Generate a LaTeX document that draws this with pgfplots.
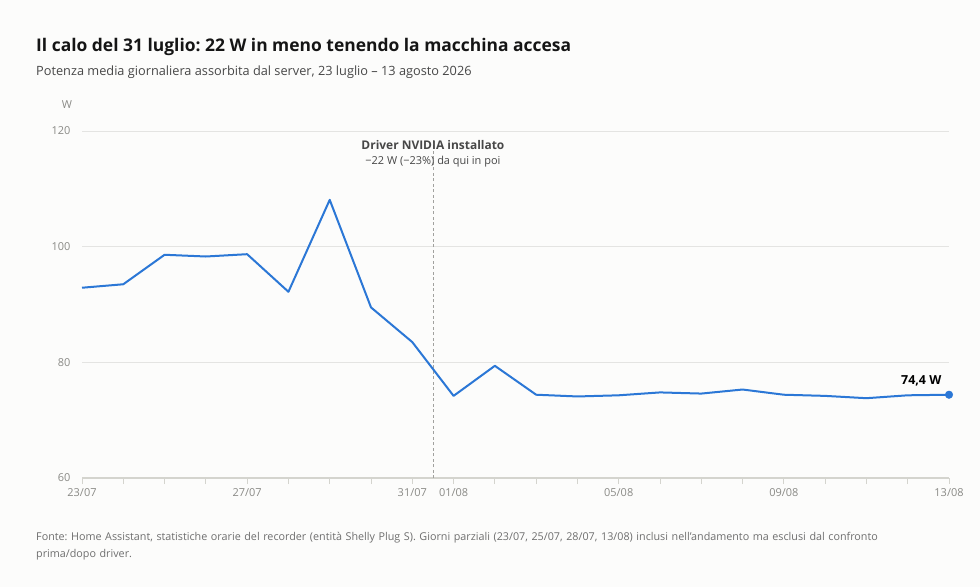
\documentclass[border=0pt]{standalone}
\usepackage{fontspec}
\setmainfont{Open Sans}
\usepackage{pgfplots}
\pgfplotsset{compat=1.18}
\frenchspacing
\definecolor{bg}{HTML}{FCFCFB}
\definecolor{linec}{HTML}{2B77D6}
\definecolor{gridc}{HTML}{E4E4E2}
\definecolor{axisc}{HTML}{D4D4CE}
\definecolor{tickc}{HTML}{8A8A86}
\definecolor{titlec}{HTML}{151515}
\definecolor{subc}{HTML}{474747}
\definecolor{notec}{HTML}{6E6E6E}

\pgfplotstableread{
day W
0 92.9
1 93.5
2 98.6
3 98.3
4 98.7
5 92.2
6 108.1
7 89.5
8 83.5
9 74.2
10 79.4
11 74.4
12 74.1
13 74.3
14 74.8
15 74.6
16 75.3
17 74.4
18 74.2
19 73.8
20 74.3
21 74.4
}\power

\begin{document}
\begin{tikzpicture}[x=1bp,y=1bp]
\fill[bg] (0,0) rectangle (980,-587);
\node[anchor=west,inner sep=0pt,text=titlec,font=\fontsize{17.5}{21}\selectfont\bfseries] at (36,-47) {Il calo del 31 luglio: 22 W in meno tenendo la macchina accesa};
\node[anchor=west,inner sep=0pt,text=subc,font=\fontsize{12.8}{15}\selectfont] at (36,-72) {Potenza media giornaliera assorbita dal server, 23 luglio – 13 agosto 2026};
\node[text=tickc,font=\fontsize{11}{13}\selectfont] at (67,-105) {W};

\begin{axis}[
  at={(82bp,-478bp)}, anchor=south west,
  scale only axis, width=867bp, height=347bp,
  xmin=0, xmax=21, ymin=60, ymax=120,
  axis x line*=bottom, axis y line*=left,
  x axis line style={draw=axisc, line width=1.6bp},
  y axis line style={draw=none},
  xtick={0,...,21},
  xticklabels={23/07,,,,27/07,,,,31/07,01/08,,,,05/08,,,,09/08,,,,13/08},
  ytick={60,80,100,120},
  yticklabels={60,80,100,120},
  tick align=outside,
  major tick length=6bp,
  xtick style={draw=axisc, line width=0.9bp},
  ytick style={draw=none},
  ymajorgrids, grid style={draw=gridc, line width=1bp},
  ticklabel style={text=tickc, font=\fontsize{11}{13}\selectfont},
  xticklabel style={yshift=-1bp},
  yticklabel style={xshift=-2bp},
  clip=false,
]
\draw[tickc!80, dash pattern=on 3bp off 2.5bp, line width=0.8bp] (axis cs:8.5,60) -- (axis cs:8.5,118.4);
\node[text=subc,font=\fontsize{12}{14}\selectfont\bfseries] at (axis cs:8.5,117.5) {Driver NVIDIA installato};
\node[text=subc,font=\fontsize{11}{13}\selectfont] at (axis cs:8.5,114.7) {−22 W (−23\%) da qui in poi};
\addplot[linec, line width=2bp, line join=round] table[x=day, y=W] {\power};
\addplot[only marks, mark=*, mark size=3.8bp, linec] coordinates {(21,74.4)};
\node[anchor=south east, text=black, font=\fontsize{12.5}{15}\selectfont\bfseries] at (axis cs:20.9,75.3) {74,4 W};
\end{axis}

\node[anchor=north west, text=notec, text width=860bp, align=left, inner sep=0pt,
  font=\fontsize{10.8}{17}\selectfont] at (36,-532) {Fonte: Home Assistant, statistiche orarie del recorder (entità Shelly Plug S). Giorni parziali (23/07, 25/07, 28/07, 13/08) inclusi nell'andamento ma esclusi dal confronto prima/dopo driver.};
\end{tikzpicture}
\end{document}
